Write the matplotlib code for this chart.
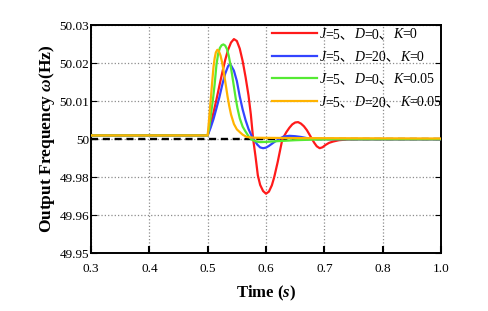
import numpy as np
import matplotlib
matplotlib.use("Agg")
import matplotlib.pyplot as plt

plt.rcParams["font.family"] = ["Liberation Serif", "Noto Sans CJK SC"]
plt.rcParams["mathtext.fontset"] = "custom"
plt.rcParams["mathtext.it"] = "Liberation Serif:italic:bold"
plt.rcParams["mathtext.rm"] = "Liberation Serif:bold"

# tick values (axis is spaced evenly between them, as in the original)
x_ticks = [0.3, 0.4, 0.5, 0.6, 0.7, 0.8, 1.0]
x_labels = ["0.3", "0.4", "0.5", "0.6", "0.7", "0.8", "1.0"]
y_ticks = [49.95, 49.96, 49.98, 50.0, 50.01, 50.02, 50.03]
y_labels = ["49.95", "49.96", "49.98", "50", "50.01", "50.02", "50.03"]

# J=5, D=0, K=0
t_red = [0.3, 0.5, 0.505, 0.51, 0.515, 0.52, 0.525, 0.53, 0.535, 0.54, 0.545, 0.55,
         0.555, 0.56, 0.565, 0.57, 0.574, 0.578, 0.582, 0.586, 0.59, 0.595, 0.6,
         0.605, 0.61, 0.614, 0.62, 0.625, 0.628, 0.635, 0.64, 0.645, 0.65, 0.655,
         0.66, 0.665, 0.67, 0.675, 0.679, 0.683, 0.687, 0.692, 0.697, 0.702, 0.708,
         0.715, 0.725, 0.74, 0.76, 1.0]
f_red = [50.001, 50.001, 50.004, 50.007, 50.0104, 50.014, 50.0175, 50.0208, 50.0235,
         50.0254, 50.0263, 50.0258, 50.0238, 50.0205, 50.0163, 50.0115, 50.0065,
         50.0, 49.991, 49.981, 49.976, 49.9728, 49.9714, 49.9725, 49.9758, 49.980,
         49.988, 49.9955, 50.0, 50.0019, 50.003, 50.0039, 50.0044, 50.0045, 50.0041,
         50.0034, 50.0024, 50.0011, 50.0, 49.998, 49.9963, 49.9953, 49.9958, 49.997,
         49.9981, 49.9988, 49.9995, 49.9999, 50.0, 50.0]

# J=5, D=20, K=0
t_blue = [0.3, 0.5, 0.505, 0.51, 0.515, 0.52, 0.525, 0.53, 0.535, 0.5375, 0.54, 0.545,
          0.55, 0.555, 0.56, 0.565, 0.57, 0.575, 0.58, 0.585, 0.59, 0.595, 0.6, 0.605,
          0.61, 0.615, 0.62, 0.625, 0.63, 0.64, 0.65, 0.66, 0.67, 0.68, 0.69, 1.0]
f_blue = [50.001, 50.001, 50.003, 50.0053, 50.0081, 50.011, 50.0143, 50.0172, 50.0192,
          50.0196, 50.0194, 50.018, 50.0153, 50.0112, 50.0078, 50.005, 50.0027,
          50.001, 49.9995, 49.9972, 49.9957, 49.9953, 49.9956, 49.9965, 49.9976,
          49.9987, 49.9996, 50.0003, 50.0007, 50.0009, 50.0008, 50.0006, 50.0003,
          50.0001, 50.0, 50.0]

# J=5, D=0, K=0.05
t_green = [0.3, 0.5, 0.503, 0.506, 0.509, 0.512, 0.515, 0.518, 0.521, 0.524, 0.527,
           0.53, 0.533, 0.536, 0.539, 0.542, 0.545, 0.548, 0.551, 0.555, 0.56, 0.565,
           0.57, 0.575, 0.58, 0.585, 0.59, 0.6, 0.62, 0.65, 0.68, 0.72, 1.0]
f_green = [50.001, 50.001, 50.0035, 50.007, 50.0104, 50.0145, 50.0195, 50.0225,
           50.024, 50.0247, 50.0249, 50.0246, 50.0237, 50.022, 50.0196, 50.0168,
           50.0138, 50.0108, 50.0082, 50.0055, 50.0033, 50.002, 50.0008, 49.9999,
           49.9992, 49.9987, 49.9985, 49.9986, 49.999, 49.9995, 49.9998, 50.0, 50.0]

# J=5, D=20, K=0.05
t_orange = [0.3, 0.5, 0.502, 0.504, 0.506, 0.508, 0.51, 0.512, 0.514, 0.5166, 0.519,
            0.522, 0.525, 0.528, 0.531, 0.534, 0.537, 0.54, 0.545, 0.55, 0.5556, 0.56,
            0.567, 0.58, 0.65, 1.0]
f_orange = [50.001, 50.001, 50.0045, 50.0082, 50.0118, 50.0155, 50.019, 50.0213,
            50.0228, 50.0235, 50.0232, 50.022, 50.02, 50.0172, 50.0143, 50.0113,
            50.0087, 50.0065, 50.004, 50.0026, 50.0018, 50.0012, 50.0006, 50.0004,
            50.0003, 50.0002]

series = [
    (t_red, f_red, "#ff1a1a", [("J", True), ("=5、", False), ("D", True), ("=0、", False), ("K", True), ("=0", False)]),
    (t_blue, f_blue, "#3344ff", [("J", True), ("=5、", False), ("D", True), ("=20、", False), ("K", True), ("=0", False)]),
    (t_green, f_green, "#55ea33", [("J", True), ("=5、", False), ("D", True), ("=0、", False), ("K", True), ("=0.05", False)]),
    (t_orange, f_orange, "#ffb300", [("J", True), ("=5、", False), ("D", True), ("=20、", False), ("K", True), ("=0.05", False)]),
]

fig = plt.figure(figsize=(4.88, 3.11), dpi=100)
ax = fig.add_axes([0.1865, 0.1849, 0.7172, 0.7347])

# piecewise scales so the ticks sit evenly like the original figure
xp = np.arange(len(x_ticks))
yp = np.arange(len(y_ticks))
ax.set_xscale("function", functions=(lambda v: np.interp(v, x_ticks, xp),
                                     lambda p: np.interp(p, xp, x_ticks)))
ax.set_yscale("function", functions=(lambda v: np.interp(v, y_ticks, yp),
                                     lambda p: np.interp(p, yp, y_ticks)))

ax.axhline(50.0, color="black", linestyle=(0, (3, 2)), linewidth=1.7, zorder=2)
lines = []
for t, f, c, _ in series:
    ln, = ax.plot(t, f, color=c, linewidth=1.6, zorder=3)
    lines.append(ln)

ax.set_xlim(0.3, 1.0)
ax.set_ylim(49.95, 50.03)
ax.set_xticks(x_ticks)
ax.set_xticklabels(x_labels)
ax.set_yticks(y_ticks)
ax.set_yticklabels(y_labels)
ax.minorticks_off()
ax.grid(True, color="0.55", linestyle=":", linewidth=0.9)

for s in ax.spines.values():
    s.set_linewidth(1.4)
ax.tick_params(axis="x", direction="in", length=5, width=1.5, pad=7, labelsize=9.5)
ax.tick_params(axis="y", direction="in", length=4, width=0.8, pad=1.5, labelsize=9.5,
               right=True)

ax.set_xlabel(r"Time ($s$)", fontsize=12, fontweight="bold", labelpad=6)
ax.set_ylabel(r"Output Frequency $\omega$(Hz)", fontsize=12.5, fontweight="bold", labelpad=1.5)

leg = ax.legend(lines, [p[3][0][0] for p in series], loc="upper left",
                bbox_to_anchor=(0.51, 1.0), frameon=False, fontsize=10,
                handlelength=3.2, handletextpad=0.2, labelspacing=0.7,
                borderpad=0.2, borderaxespad=0.0)
for txt, (_, _, _, parts) in zip(leg.get_texts(), series):
    txt.set_fontstyle("italic")
    prev = txt
    for piece, it in parts[1:]:
        prev = ax.annotate(piece, xy=(1, 0), xycoords=prev, va="bottom", ha="left",
                           fontsize=10, fontstyle="italic" if it else "normal",
                           zorder=10)

fig.savefig("out.png", dpi=100)
